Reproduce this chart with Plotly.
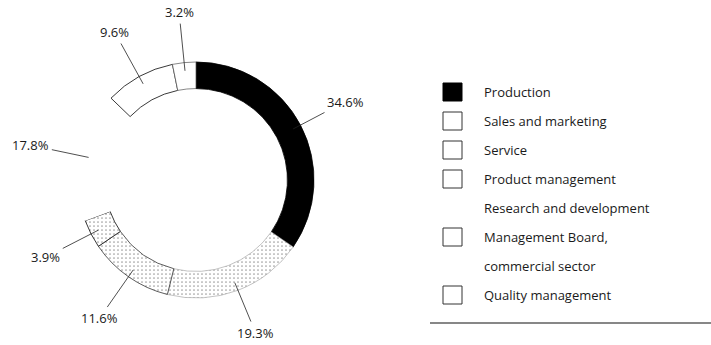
import math
import plotly.graph_objects as go

# ---- data ----
categories = ["Production", "Sales and marketing", "Service", "Product management",
              "Research and development", "Management Board,<br>commercial sector",
              "Quality management"]
shares = [34.6, 19.3, 11.6, 3.9, 17.8, 9.6, 3.2]

# ---- styles ----
fill_colors = ["#000000", "#f0f0f0", "#f2f2f2", "#e8e8e8", "#ffffff", "#ffffff", "#ffffff"]
line_colors = ["#000000", "#9a9a9a", "#333333", "#222222", "#ffffff", "#222222", "#555555"]
line_widths = [0.8, 0.6, 0.8, 0.9, 0, 0.9, 0.7]
legend_box = [("#000000", "#000000"), ("#ffffff", "#333333"), ("#ffffff", "#333333"),
              ("#ffffff", "#333333"), None, ("#ffffff", "#333333"), ("#ffffff", "#333333")]

W, H = 711, 345
CX, CY, R = 196, 180, 118          # donut centre / outer radius in pixels
TXT = "#1a1a1a"
FONT = "Open Sans"
FS = 13

fig = go.Figure()
fig.add_trace(go.Pie(
    labels=categories, values=shares, sort=False, direction="clockwise", rotation=0,
    hole=0.775, textinfo="none", hoverinfo="label+percent", showlegend=False,
    marker=dict(colors=fill_colors, line=dict(color=line_colors, width=line_widths),
                pattern=dict(shape=["", ".", ".", ".", "", "", ""], fgcolor="#a0a0a0",
                             size=4, solidity=0.15)),
    domain=dict(x=[(CX - R) / W, (CX + R) / W], y=[1 - (CY + R) / H, 1 - (CY - R) / H]),
))

# invisible pixel axes for annotations / shapes
fig.update_layout(
    xaxis=dict(range=[0, W], visible=False, domain=[0, 1], fixedrange=True),
    yaxis=dict(range=[H, 0], visible=False, domain=[0, 1], fixedrange=True),
)

annotations = []
shapes = []
total = sum(shares)
cum = 0.0
for v in shares:
    mid = (cum + v / 2) / total * 2 * math.pi
    cum += v
    tip_r, txt_r = 0.93 * R, 1.43 * R
    tx, ty = CX + tip_r * math.sin(mid), CY - tip_r * math.cos(mid)
    lx, ly = CX + txt_r * math.sin(mid), CY - txt_r * math.cos(mid)
    ly = min(max(ly, 12), H - 12)   # keep labels inside the page
    annotations.append(dict(
        x=tx, y=ty, xref="x", yref="y", ax=lx, ay=ly, axref="x", ayref="y",
        text=f"{v:.1f}%", showarrow=True, arrowhead=0, arrowwidth=0.8,
        arrowcolor="#222222", standoff=0, startstandoff=1,
        font=dict(family=FONT, size=FS, color=TXT)))

# custom legend
row0, row_h = 92, 29
box_x0, box_x1, box_h = 443, 462, 18
text_x = 482
row = 0
for cat, box in zip(categories, legend_box):
    lines = cat.split("<br>")
    yc = row0 + row * row_h
    if box is not None:
        shapes.append(dict(type="rect", xref="x", yref="y", x0=box_x0, x1=box_x1,
                           y0=yc - box_h / 2, y1=yc + box_h / 2,
                           fillcolor=box[0], line=dict(color=box[1], width=1)))
    for ln in lines:
        annotations.append(dict(x=text_x, y=row0 + row * row_h, xref="x", yref="y",
                                text=ln, showarrow=False, xanchor="left", yanchor="middle",
                                font=dict(family=FONT, size=FS, color=TXT)))
        row += 1

shapes.append(dict(type="line", xref="x", yref="y", x0=430, x1=W, y0=323, y1=323,
                   line=dict(color="#111111", width=1.2)))

fig.update_layout(
    width=W, height=H, margin=dict(l=0, r=0, t=0, b=0),
    paper_bgcolor="white", plot_bgcolor="white",
    annotations=annotations, shapes=shapes, showlegend=False,
)

fig.write_html("out.html")
